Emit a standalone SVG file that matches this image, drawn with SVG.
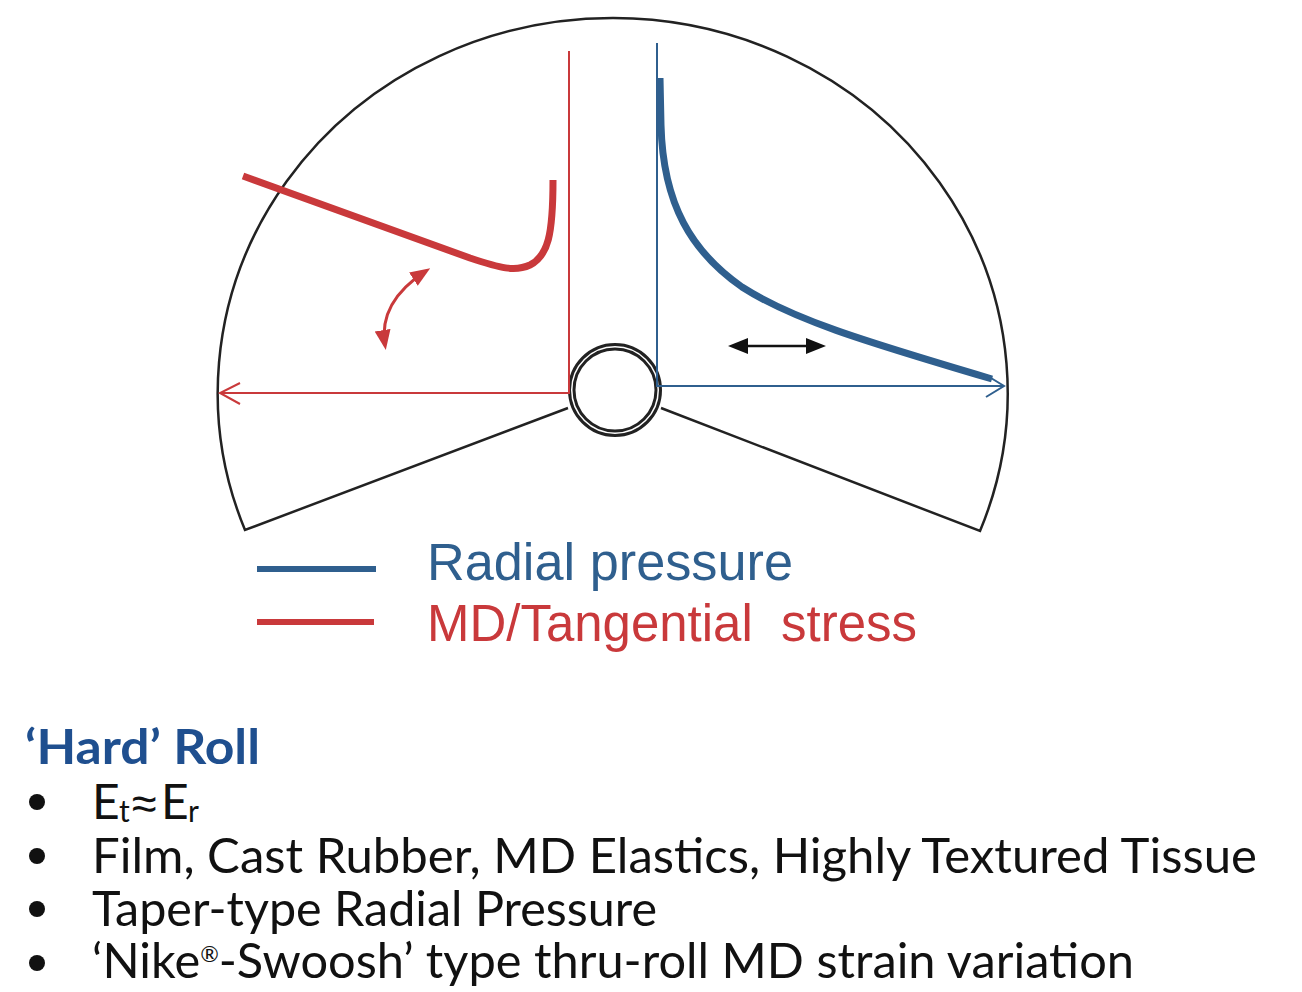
<svg xmlns="http://www.w3.org/2000/svg" width="1302" height="992" viewBox="0 0 1302 992">
<style>
.outline{fill:none;stroke:#222;stroke-width:2.5}
.ring{fill:none;stroke:#222;stroke-width:3}
.axisR{fill:none;stroke:#c9393b;stroke-width:2}
.axisB{fill:none;stroke:#2f5f8e;stroke-width:2}
.curveR{fill:none;stroke:#c9393b;stroke-width:7;stroke-linecap:butt;stroke-linejoin:round}
.curveB{fill:none;stroke:#2f5f8e;stroke-width:7;stroke-linecap:butt;stroke-linejoin:round}
.leg{font-family:"Liberation Sans",Arial,sans-serif;font-size:51px}
.body{font-family:Lato,"Open Sans","Liberation Sans",sans-serif;font-size:48px;fill:#111}
.sub{font-size:30px}
.bullet{fill:#111}
</style>
<defs>
<marker id="headR" markerUnits="userSpaceOnUse" markerWidth="20" markerHeight="20" viewBox="0 0 20 20" refX="15" refY="10" orient="auto-start-reverse"><path d="M0,2 L20,10 L0,18 z" fill="#c9393b"/></marker>
<marker id="headK" markerUnits="userSpaceOnUse" markerWidth="20" markerHeight="20" viewBox="0 0 20 20" refX="15" refY="10" orient="auto-start-reverse"><path d="M0,2 L20,10 L0,18 z" fill="#111"/></marker>
</defs>
<rect width="1302" height="992" fill="#fff"/>

<g id="roll-outline">
<path class="outline" d="M568,408 L245,530 A395,375 0 1 1 980,531 L661,408"/>
</g>

<g id="core">
<circle class="ring" cx="615" cy="390" r="45.5"/>
<circle class="ring" cx="615" cy="390" r="41"/>
</g>

<g id="connectors">
<path class="axisR" d="M569,51 L569,393 L220,393"/>
<path class="axisR" d="M240,383 L220,393 L240,404"/>
<path class="axisB" d="M657,43 L657,386 L1004,386"/>
<path class="axisB" d="M986,375 L1004,386 L986,397"/>
<path d="M385,345 Q378,302 426,271" fill="none" stroke="#c9393b" stroke-width="3" marker-start="url(#headR)" marker-end="url(#headR)"/>
<path d="M733,346 L821,346" fill="none" stroke="#111" stroke-width="2.5" marker-start="url(#headK)" marker-end="url(#headK)"/>
</g>

<g id="md-stress-curve">
<path class="curveR" d="M243,176 L470,258 C500,268 515,272 530,265 C548,256 553,235 553,180"/>
</g>

<g id="radial-pressure-curve">
<path class="curveB" d="M660,78 L661,125 C663,205 692,252 742,287 C792,319 860,340 992,379"/>
</g>

<g id="legend">
<line x1="257" y1="569" x2="376" y2="569" stroke="#2f5f8e" stroke-width="6"/>
<line x1="257" y1="622" x2="374" y2="622" stroke="#c9393b" stroke-width="6"/>
<text class="leg" x="427" y="580" fill="#2f5f8e" textLength="366" lengthAdjust="spacingAndGlyphs">Radial pressure</text>
<text class="leg" x="427" y="641" fill="#c9393b" xml:space="preserve" textLength="490" lengthAdjust="spacingAndGlyphs">MD/Tangential  stress</text>
</g>

<g id="notes">
<text class="body" x="25" y="764" font-weight="bold" style="fill:#1f4f8f" textLength="235" lengthAdjust="spacingAndGlyphs">‘Hard’ Roll</text>
<circle class="bullet" cx="37" cy="802" r="8"/>
<circle class="bullet" cx="37" cy="856" r="8"/>
<circle class="bullet" cx="37" cy="909" r="8"/>
<circle class="bullet" cx="37" cy="963" r="8"/>
<text class="body" y="819"><tspan x="92">E</tspan><tspan class="sub" x="119" y="822">t</tspan><tspan x="132" y="819" font-family="'Liberation Sans',sans-serif" font-size="45">≈</tspan><tspan x="161" y="819">E</tspan><tspan class="sub" x="188" y="822">r</tspan></text>
<text class="body" x="92" y="873" textLength="1165" lengthAdjust="spacingAndGlyphs">Film, Cast Rubber, MD Elastics, Highly Textured Tissue</text>
<text class="body" x="92" y="926" textLength="565" lengthAdjust="spacingAndGlyphs">Taper-type Radial Pressure</text>
<text class="body" x="92" y="978" textLength="1042" lengthAdjust="spacingAndGlyphs">‘Nike<tspan font-size="22" dy="-16">®</tspan><tspan dy="16">-Swoosh’ type thru-roll MD strain variation</tspan></text>
</g>
</svg>
